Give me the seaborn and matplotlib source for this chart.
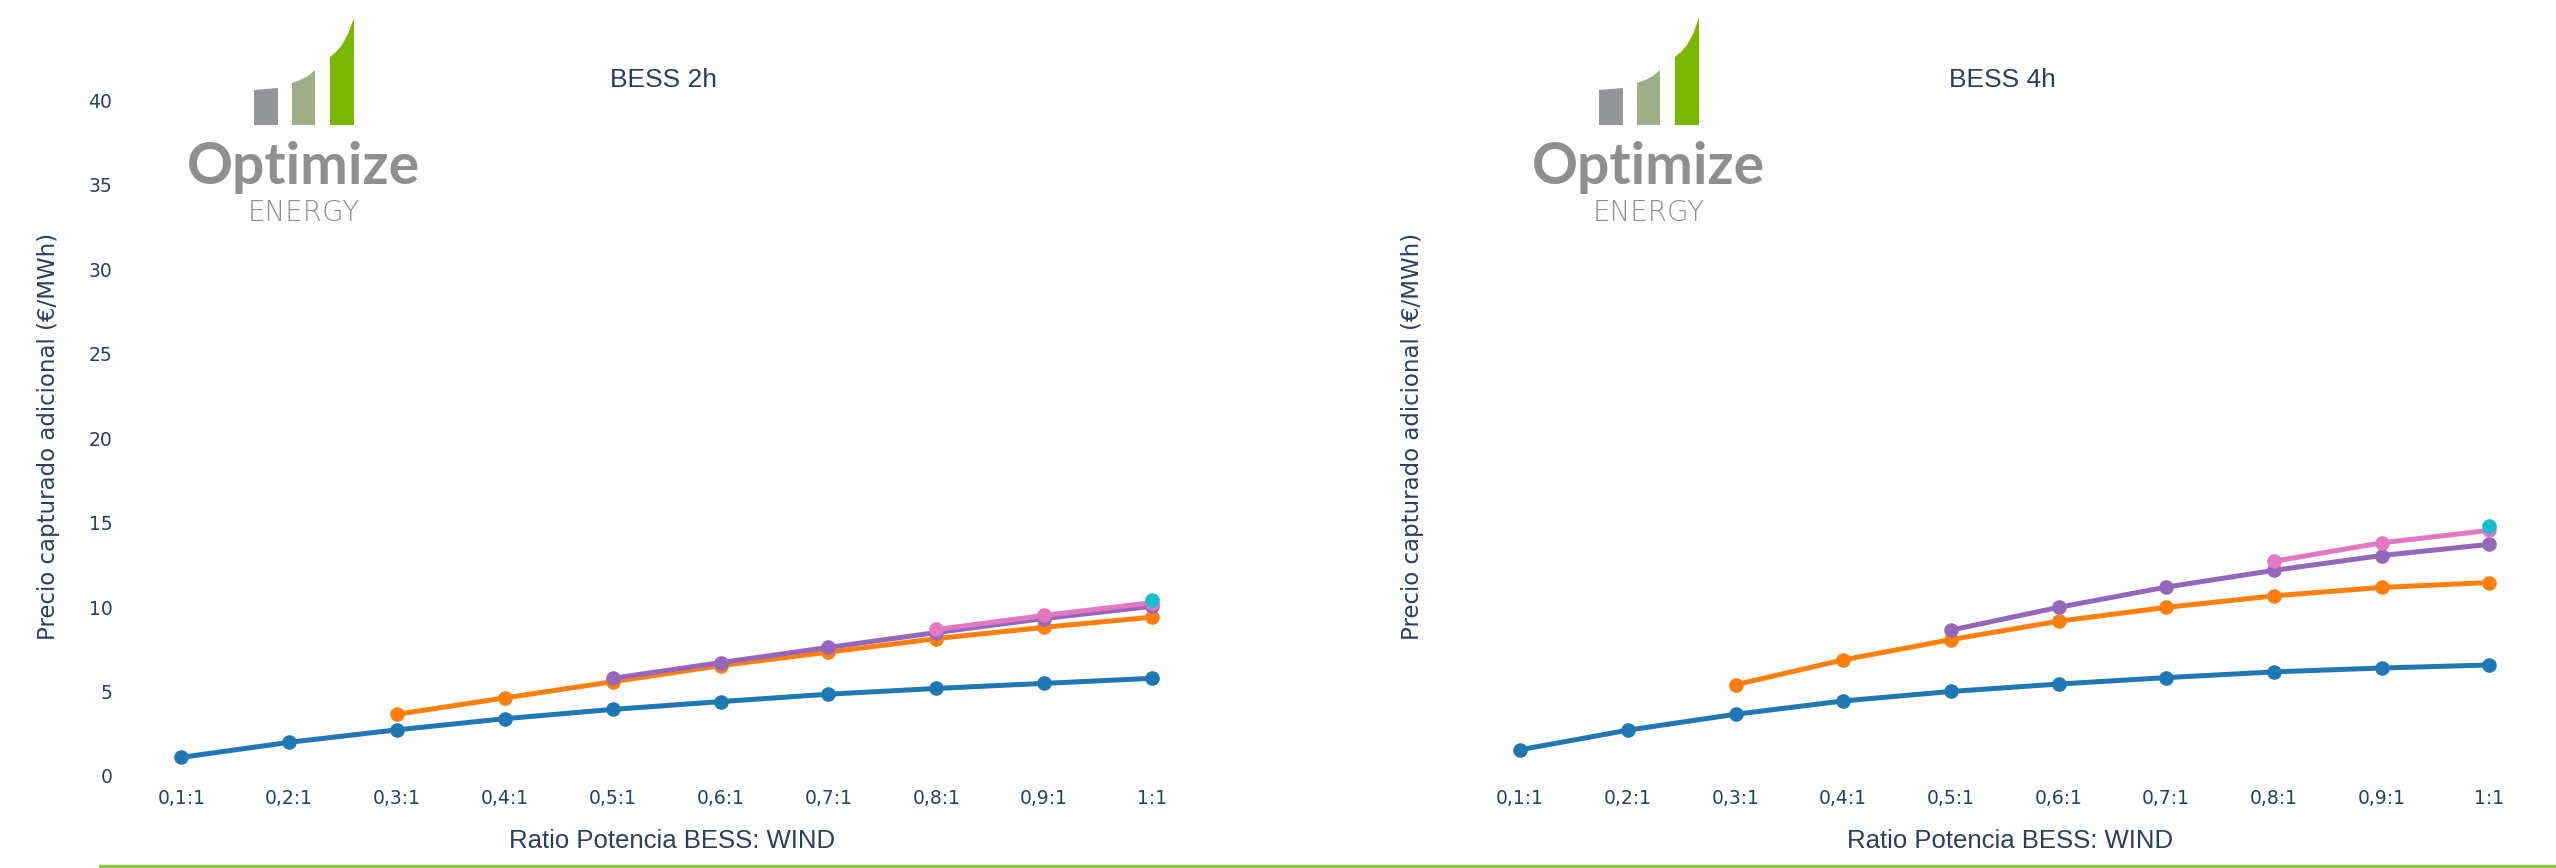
import matplotlib.pyplot as plt
from matplotlib.patches import Polygon
from matplotlib.lines import Line2D
import pandas as pd
import seaborn as sns

ratios = ["0,1:1", "0,2:1", "0,3:1", "0,4:1", "0,5:1", "0,6:1", "0,7:1", "0,8:1", "0,9:1", "1:1"]
series = ["serie 1", "serie 2", "serie 3", "serie 4", "serie 5"]
colors = ["#1f77b4", "#ff7f0e", "#9467bd", "#e377c2", "#17becf"]

# BESS 2h (None = no value for that ratio)
bess2h_s1 = [1.10, 1.99, 2.73, 3.39, 3.94, 4.40, 4.84, 5.18, 5.48, 5.78]
bess2h_s2 = [None, None, 3.65, 4.62, 5.58, 6.53, 7.33, 8.13, 8.80, 9.40]
bess2h_s3 = [None, None, None, None, 5.78, 6.71, 7.61, 8.49, 9.32, 10.04]
bess2h_s4 = [None, None, None, None, None, None, None, 8.67, 9.50, 10.26]
bess2h_s5 = [None, None, None, None, None, None, None, None, None, 10.40]

# BESS 4h
bess4h_s1 = [1.55, 2.71, 3.65, 4.44, 5.00, 5.44, 5.82, 6.16, 6.39, 6.57]
bess4h_s2 = [None, None, 5.40, 6.87, 8.07, 9.16, 9.98, 10.66, 11.16, 11.45]
bess4h_s3 = [None, None, None, None, 8.63, 9.98, 11.18, 12.17, 13.05, 13.71]
bess4h_s4 = [None, None, None, None, None, None, None, 12.71, 13.80, 14.54]
bess4h_s5 = [None, None, None, None, None, None, None, None, None, 14.80]

y_ticks = [0, 5, 10, 15, 20, 25, 30, 35, 40]
titles = ["BESS 2h", "BESS 4h"]
ylabel = "Precio capturado adicional (€/MWh)"
xlabel = "Ratio Potencia BESS: WIND"


def long_table(cols):
    rows = []
    for name, vals in zip(series, cols):
        for r, v in zip(ratios, vals):
            if v is not None:
                rows.append({"ratio": r, "serie": name, "valor": v})
    return pd.DataFrame(rows)


tables = [
    long_table([bess2h_s1, bess2h_s2, bess2h_s3, bess2h_s4, bess2h_s5]),
    long_table([bess4h_s1, bess4h_s2, bess4h_s3, bess4h_s4, bess4h_s5]),
]

sns.set_theme(style="white")
plt.rcParams["font.family"] = ["DejaVu Sans"]
text_col = "#2a3f5f"

W, H = 2556, 868
fig = plt.figure(figsize=(W / 100, H / 100), dpi=100)


def fx(px):
    return px / W


def fy(py):
    return 1 - py / H


panels = [(122, 1206), (1461, 2543)]
top, bottom = 75, 781
palette = dict(zip(series, colors))

for i, (df, (x0, x1)) in enumerate(zip(tables, panels)):
    ax = fig.add_axes([fx(x0), fy(bottom), fx(x1 - x0), (bottom - top) / H])
    sns.lineplot(data=df, x="ratio", y="valor", hue="serie", palette=palette,
                 sort=False, errorbar=None, marker="o", markersize=10.5,
                 markeredgewidth=0, linewidth=3.6, legend=False, ax=ax)
    ax.set_xlim(-0.55, 9.5)
    ax.set_ylim(-0.3, 41.5)
    ax.set_yticks(y_ticks)
    ax.set_xlabel("")
    ax.set_ylabel("")
    ax.grid(False)
    for s in ax.spines.values():
        s.set_visible(False)
    ax.tick_params(axis="x", length=0, pad=6, labelsize=13.5, labelcolor=text_col)
    ax.tick_params(axis="y", length=0, pad=7, labelsize=13.5, labelcolor=text_col)
    if i == 1:
        ax.set_yticklabels([])
    cx = (x0 + x1) / 2
    fig.text(fx(cx), fy(80), titles[i], ha="center", va="center", fontsize=19,
             color=text_col, family=["Liberation Sans Narrow", "Liberation Sans"])
    fig.text(fx(cx + 8), fy(841), xlabel, ha="center", va="center", fontsize=18.5,
             color=text_col, family=["Liberation Sans Narrow", "Liberation Sans"])
    fig.text(fx(49 if i == 0 else 1412), fy(436), ylabel, rotation=90,
             ha="center", va="center", fontsize=16.5, color=text_col)


def draw_logo(off):
    bars = [
        ("#939598", [(254, 125), (254, 90), (266, 89), (278, 88), (278, 125)]),
        ("#9caf88", [(292, 125), (292, 83), (300, 80), (308, 76), (315, 70), (315, 125)]),
        ("#7ab800", [(330, 125), (330, 57), (336, 52), (342, 45), (348, 34), (354, 18), (354, 125)]),
    ]
    for col, pts in bars:
        fig.patches.append(Polygon([(fx(x + off), fy(y)) for x, y in pts], closed=True,
                                   facecolor=col, edgecolor="none",
                                   transform=fig.transFigure, figure=fig))
    fig.text(fx(303 + off), fy(167), "Optimize", ha="center", va="center",
             fontsize=41, color="#8e8f91", family="Lato", weight="bold")
    fig.text(fx(304 + off), fy(213), "ENERGY", ha="center", va="center",
             fontsize=20, color="#8e8f91", family="DejaVu Sans", weight="light")


draw_logo(0)
draw_logo(1345)

fig.lines.append(Line2D([fx(100), 1], [fy(866), fy(866)], color="#8dc63f", linewidth=2.5,
                        transform=fig.transFigure, figure=fig))

fig.savefig("out.png", dpi=100, facecolor="white")
